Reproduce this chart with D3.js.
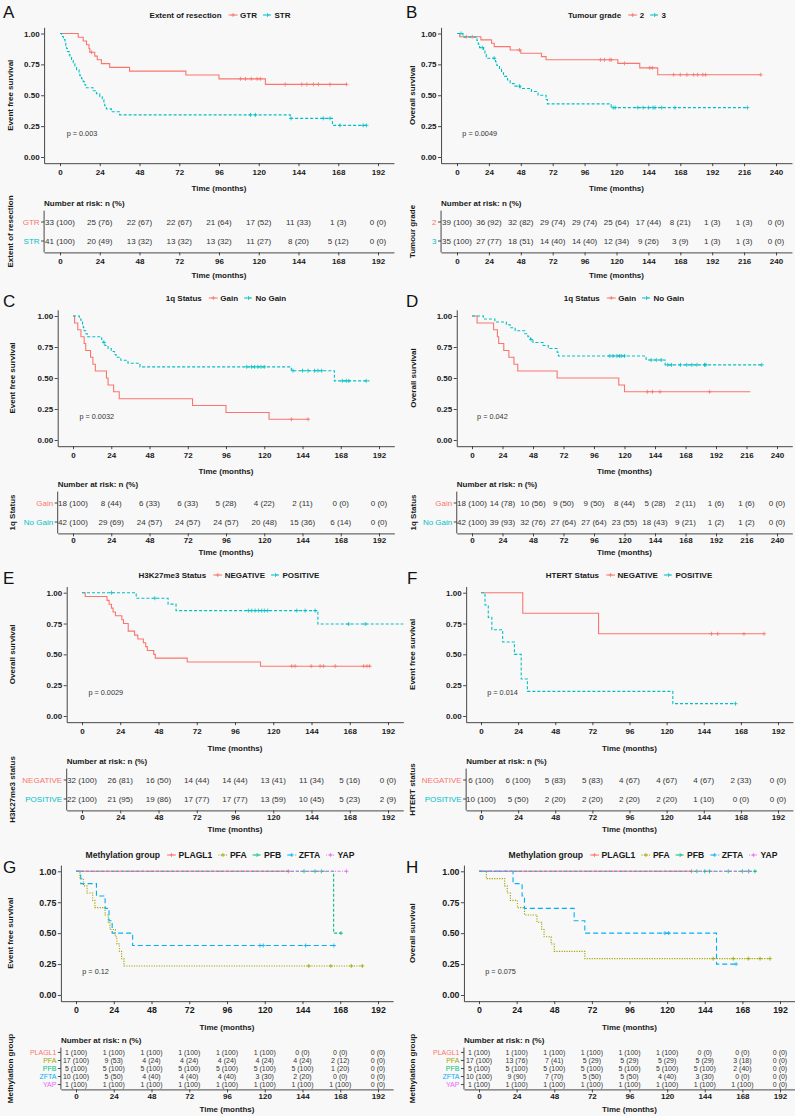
<!DOCTYPE html>
<html><head><meta charset="utf-8">
<script src="https://cdn.jsdelivr.net/npm/d3@7"></script>
<style>
body{margin:0;background:#f8f8f8;}
svg{display:block;font-family:"Liberation Sans",Arial,Helvetica,sans-serif;}
</style></head><body>
<svg id="chart" width="795" height="1116"></svg>
<script>
// ---------------- DATA ----------------
const monthTicks192 = [0,24,48,72,96,120,144,168,192];
const monthTicks240 = [0,24,48,72,96,120,144,168,192,216,240];
const survTicks = [0,0.25,0.5,0.75,1];

// A: Extent of resection, EFS
const A_groups = ['GTR','STR'];
const A_GTR_steps = [[0,1],[11,0.970],[14,0.939],[16,0.909],[17.5,0.879],[18,0.848],[21,0.817],[22.5,0.787],[25,0.756],[30,0.726],[42,0.695],[76,0.664],[96,0.633],[124,0.588]];
const A_GTR_censor = [19,109,112,115.5,119,121,136,146,149,153,156,163,173];
const A_GTR_end = 173;
const A_STR_steps = [[0,1],[1,0.976],[2,0.951],[3,0.927],[3.5,0.902],[4,0.878],[4.5,0.854],[5.5,0.829],[6,0.805],[7,0.780],[8,0.756],[9,0.732],[10,0.707],[11.5,0.683],[12,0.659],[13,0.634],[14,0.610],[15,0.585],[15.5,0.561],[20,0.537],[22,0.512],[24,0.488],[25.5,0.463],[26.5,0.439],[27,0.415],[28,0.390],[31,0.366],[36,0.341],[139,0.313],[164.5,0.256]];
const A_STR_censor = [115,118,139.5,159,163,169,183,185];
const A_STR_end = 186;
const A_risk_GTR = ['33 (100)','25 (76)','22 (67)','22 (67)','21 (64)','17 (52)','11 (33)','1 (3)','0 (0)'];
const A_risk_STR = ['41 (100)','20 (49)','13 (32)','13 (32)','13 (32)','11 (27)','8 (20)','5 (12)','0 (0)'];

// B: Tumour grade, OS
const B_groups = ['2','3'];
const B_G2_steps = [[0,1],[2,0.974],[18,0.948],[26,0.921],[28,0.894],[40,0.867],[48,0.840],[63.5,0.813],[67,0.787],[121,0.758],[137.5,0.722],[151,0.666]];
const B_G2_censor = [7,11.5,47,108,111,115,116,126,145,147,163,168,173,178,181,185,187,228.5];
const B_G2_end = 228.5;
const B_G3_steps = [[0,1],[4.5,0.971],[15,0.943],[16,0.914],[17,0.886],[20,0.857],[21,0.829],[22,0.800],[29,0.771],[30,0.741],[32,0.712],[33.5,0.682],[35,0.653],[38,0.623],[40,0.594],[43,0.574],[47.5,0.555],[56,0.530],[61,0.500],[67,0.465],[68,0.430],[116,0.400]];
const B_G3_censor = [3,19,28,47,117.5,119,136,140,144,147.5,149,154,164,218.5];
const B_G3_end = 218.5;
const B_risk_2 = ['39 (100)','36 (92)','32 (82)','29 (74)','29 (74)','25 (64)','17 (44)','8 (21)','1 (3)','1 (3)','0 (0)'];
const B_risk_3 = ['35 (100)','27 (77)','18 (51)','14 (40)','14 (40)','12 (34)','9 (26)','3 (9)','1 (3)','1 (3)','0 (0)'];

// C: 1q status, EFS
const C_groups = ['Gain','No Gain'];
const C_Gain_steps = [[0,1],[1,0.944],[3,0.889],[5,0.833],[7,0.778],[8,0.722],[11,0.667],[12.5,0.611],[14,0.556],[21,0.500],[22,0.444],[25.5,0.389],[29,0.333],[75,0.278],[96,0.222],[123,0.167]];
const C_Gain_censor = [137,147.5];
const C_Gain_end = 148;
const C_NoGain_steps = [[0,1],[4,0.976],[5,0.952],[6,0.929],[6.5,0.905],[7,0.881],[8,0.857],[9,0.833],[18,0.810],[19,0.786],[20,0.762],[22,0.738],[24,0.714],[26,0.690],[27,0.667],[30,0.643],[34.5,0.619],[42,0.590],[137,0.559],[164,0.477]];
const C_NoGain_censor = [19.5,109,112,114,116,118,120,138,144,147.5,151.6,153.7,156,169,171.5,173,184];
const C_NoGain_end = 186;
const C_risk_Gain = ['18 (100)','8 (44)','6 (33)','6 (33)','5 (28)','4 (22)','2 (11)','0 (0)','0 (0)'];
const C_risk_NoGain = ['42 (100)','29 (69)','24 (57)','24 (57)','24 (57)','20 (48)','15 (36)','6 (14)','0 (0)'];

// D: 1q status, OS
const D_groups = ['Gain','No Gain'];
const D_Gain_steps = [[0,1],[4,0.944],[17,0.889],[20,0.833],[21,0.778],[25,0.722],[29,0.667],[33,0.611],[36,0.556],[67,0.500],[115.5,0.444],[120,0.389]];
const D_Gain_censor = [138,142,148,187];
const D_Gain_end = 219;
const D_NoGain_steps = [[0,1],[9,0.976],[18,0.952],[27,0.929],[30,0.905],[34,0.881],[41.5,0.857],[44,0.833],[46,0.810],[48,0.786],[56,0.762],[60,0.738],[67,0.708],[68,0.678],[137,0.645],[152,0.606]];
const D_NoGain_censor = [46.5,108.5,111,114,116,117.5,120,141,145,149,154,157,164,169,173,177,183,184,228];
const D_NoGain_end = 228;
const D_risk_Gain = ['18 (100)','14 (78)','10 (56)','9 (50)','9 (50)','8 (44)','5 (28)','2 (11)','1 (6)','1 (6)','0 (0)'];
const D_risk_NoGain = ['42 (100)','39 (93)','32 (76)','27 (64)','27 (64)','23 (55)','18 (43)','9 (21)','1 (2)','1 (2)','0 (0)'];

// E: H3K27me3, OS
const E_groups = ['NEGATIVE','POSITIVE'];
const E_Neg_steps = [[0,1],[2,0.969],[15.7,0.938],[17,0.906],[18.5,0.875],[19.5,0.844],[21,0.813],[25,0.781],[26,0.750],[29,0.688],[33,0.656],[35,0.625],[38.5,0.594],[40,0.563],[41,0.531],[45,0.500],[46,0.469],[66,0.438],[112,0.404]];
const E_Neg_censor = [131.6,133.7,143.8,149.4,151.5,158.9,176.7,178.8,180.5];
const E_Neg_end = 181;
const E_Pos_steps = [[0,1],[34,0.955],[54,0.907],[59,0.855],[148,0.746]];
const E_Pos_censor = [18.5,45.7,104.4,106.5,108.6,110.7,112.8,114.4,116.5,134.8,140,146.3,167.3,177.7];
const E_Pos_end = 205;
const E_risk_Neg = ['32 (100)','26 (81)','16 (50)','14 (44)','14 (44)','13 (41)','11 (34)','5 (16)','0 (0)'];
const E_risk_Pos = ['22 (100)','21 (95)','19 (86)','17 (77)','17 (77)','13 (59)','10 (45)','5 (23)','2 (9)'];

// F: HTERT, EFS
const F_groups = ['NEGATIVE','POSITIVE'];
const F_Neg_steps = [[0,1],[27,0.833],[76,0.667]];
const F_Neg_censor = [149,153,170,183];
const F_Neg_end = 183;
const F_Pos_steps = [[0,1],[2.6,0.9],[4.7,0.8],[7,0.7],[14,0.6],[21.6,0.5],[26,0.3],[30,0.2],[124,0.1]];
const F_Pos_censor = [164.5];
const F_Pos_end = 164.5;
const F_risk_Neg = ['6 (100)','6 (100)','5 (83)','5 (83)','4 (67)','4 (67)','4 (67)','2 (33)','0 (0)'];
const F_risk_Pos = ['10 (100)','5 (50)','2 (20)','2 (20)','2 (20)','2 (20)','1 (10)','0 (0)','0 (0)'];

// G: Methylation group, EFS
const G_groups = ['PLAGL1','PFA','PFB','ZFTA','YAP'];
const G_PLAGL1_steps = [[0,1]]; const G_PLAGL1_censor = [135]; const G_PLAGL1_end = 135;
const G_PFA_steps = [[0,1],[2.5,0.941],[4.7,0.882],[7,0.824],[10.6,0.765],[12,0.706],[18.5,0.647],[20.5,0.588],[21.6,0.529],[25,0.471],[26,0.412],[27.6,0.353],[29,0.294],[30.5,0.235]];
const G_PFA_censor = [148,162,175,182]; const G_PFA_end = 182;
const G_PFB_steps = [[0,1],[163.8,0.5]]; const G_PFB_censor = [145,152,156,168.5]; const G_PFB_end = 168.5;
const G_ZFTA_steps = [[0,1],[3,0.9],[13,0.8],[18.5,0.7],[21,0.6],[23,0.5],[36,0.4]];
const G_ZFTA_censor = [117,119,146,164]; const G_ZFTA_end = 164;
const G_YAP_steps = [[0,1]]; const G_YAP_censor = [172]; const G_YAP_end = 172;
const G_risk_PLAGL1 = ['1 (100)','1 (100)','1 (100)','1 (100)','1 (100)','1 (100)','0 (0)','0 (0)','0 (0)'];
const G_risk_PFA = ['17 (100)','9 (53)','4 (24)','4 (24)','4 (24)','4 (24)','4 (24)','2 (12)','0 (0)'];
const G_risk_PFB = ['5 (100)','5 (100)','5 (100)','5 (100)','5 (100)','5 (100)','5 (100)','1 (20)','0 (0)'];
const G_risk_ZFTA = ['10 (100)','5 (50)','4 (40)','4 (40)','4 (40)','3 (30)','2 (20)','0 (0)','0 (0)'];
const G_risk_YAP = ['1 (100)','1 (100)','1 (100)','1 (100)','1 (100)','1 (100)','1 (100)','1 (100)','0 (0)'];

// H: Methylation group, OS
const H_groups = ['PLAGL1','PFA','PFB','ZFTA','YAP'];
const H_PLAGL1_steps = [[0,1]]; const H_PLAGL1_censor = [135.6]; const H_PLAGL1_end = 135.6;
const H_PFA_steps = [[0,1],[4.7,0.941],[16.4,0.882],[18,0.824],[20,0.765],[24.5,0.706],[29,0.647],[37,0.588],[40,0.529],[41.5,0.471],[46,0.412],[48,0.353],[67.5,0.294]];
const H_PFA_censor = [149.4,162.2,171.8,179.3,185.6]; const H_PFA_end = 185.6;
const H_PFB_steps = [[0,1]]; const H_PFB_censor = [139,144,147,159,168,172,176]; const H_PFB_end = 177;
const H_ZFTA_steps = [[0,1],[21.7,0.9],[27.5,0.8],[29,0.7],[60.7,0.6],[67.5,0.5],[151.5,0.25]];
const H_ZFTA_censor = [118.6,121,164]; const H_ZFTA_end = 164;
const H_YAP_steps = [[0,1]]; const H_YAP_censor = [172]; const H_YAP_end = 172;
const H_risk_PLAGL1 = ['1 (100)','1 (100)','1 (100)','1 (100)','1 (100)','1 (100)','0 (0)','0 (0)','0 (0)'];
const H_risk_PFA = ['17 (100)','13 (76)','7 (41)','5 (29)','5 (29)','5 (29)','5 (29)','3 (18)','0 (0)'];
const H_risk_PFB = ['5 (100)','5 (100)','5 (100)','5 (100)','5 (100)','5 (100)','5 (100)','2 (40)','0 (0)'];
const H_risk_ZFTA = ['10 (100)','9 (90)','7 (70)','5 (50)','5 (50)','4 (40)','3 (30)','0 (0)','0 (0)'];
const H_risk_YAP = ['1 (100)','1 (100)','1 (100)','1 (100)','1 (100)','1 (100)','1 (100)','1 (100)','0 (0)'];

// ---------------- STYLE / LAYOUT ----------------
const TWO_COLORS = ['#F8766D','#00BFC4'];
const TWO_DASH = [null,'3,2'];
const FIVE_COLORS = ['#F8766D','#A3A500','#00BF7D','#00B0F6','#E76BF3'];
const FIVE_DASH = [null,'1.2,1.3','3,2','5,3','1,1.5,3,1.5'];
const EFS='Event free survival', OS='Overall survival';

const row1 = {yTop:33.5,yBot:157,legendY:15,letterY:18,xTitleY:188,nrY:203,band:[210.6,252.4],tTickY:261,tTitleY:275,font:8,tickFont:8};
const row2 = {yTop:316,yBot:440,legendY:298,letterY:307,xTitleY:471,nrY:484,band:[491.6,533.4],tTickY:540,tTitleY:552.5,font:8,tickFont:8};
const row3 = {yTop:592.7,yBot:716,legendY:575,letterY:584,xTitleY:748,nrY:761,band:[768.6,810.4],tTickY:817,tTitleY:829.5,font:8,tickFont:8};
const row4 = {yTop:871.3,yBot:995,legendY:855,letterY:873,xTitleY:1027,nrY:1040,band:[1047.6,1089.4],tTickY:1096.5,tTitleY:1109,font:7,tickFont:8.8};

const panels = [
 Object.assign({}, row1, {letter:'A',letterX:3,x0:60,x1:378,xMax:192,ticks:monthTicks192,legendCx:220,ylabX:10,
   legendTitle:'Extent of resection',ylab:EFS,pval:'p = 0.003',groups:A_groups,tableLab:'Extent of resection',
   colors:TWO_COLORS,dashes:TWO_DASH,
   curves:[{steps:A_GTR_steps,censor:A_GTR_censor,end:A_GTR_end},{steps:A_STR_steps,censor:A_STR_censor,end:A_STR_end}],
   risk:[A_risk_GTR,A_risk_STR]}),
 Object.assign({}, row1, {letter:'B',letterX:406,x0:457,x1:776,xMax:240,ticks:monthTicks240,legendCx:617,ylabX:412,
   legendTitle:'Tumour grade',ylab:OS,pval:'p = 0.0049',groups:B_groups,tableLab:'Tumour grade',
   colors:TWO_COLORS,dashes:TWO_DASH,
   curves:[{steps:B_G2_steps,censor:B_G2_censor,end:B_G2_end},{steps:B_G3_steps,censor:B_G3_censor,end:B_G3_end}],
   risk:[B_risk_2,B_risk_3]}),
 Object.assign({}, row2, {letter:'C',letterX:3,x0:73,x1:379,xMax:192,ticks:monthTicks192,legendCx:226,ylabX:12,
   legendTitle:'1q Status',ylab:EFS,pval:'p = 0.0032',groups:C_groups,tableLab:'1q Status',
   colors:TWO_COLORS,dashes:TWO_DASH,
   curves:[{steps:C_Gain_steps,censor:C_Gain_censor,end:C_Gain_end},{steps:C_NoGain_steps,censor:C_NoGain_censor,end:C_NoGain_end}],
   risk:[C_risk_Gain,C_risk_NoGain]}),
 Object.assign({}, row2, {letter:'D',letterX:406,x0:472,x1:777,xMax:240,ticks:monthTicks240,legendCx:624,ylabX:413,
   legendTitle:'1q Status',ylab:OS,pval:'p = 0.042',groups:D_groups,tableLab:'1q Status',
   colors:TWO_COLORS,dashes:TWO_DASH,
   curves:[{steps:D_Gain_steps,censor:D_Gain_censor,end:D_Gain_end},{steps:D_NoGain_steps,censor:D_NoGain_censor,end:D_NoGain_end}],
   risk:[D_risk_Gain,D_risk_NoGain]}),
 Object.assign({}, row3, {letter:'E',letterX:3,x0:82,x1:388,xMax:192,ticks:monthTicks192,legendCx:229,ylabX:12,
   legendTitle:'H3K27me3 Status',ylab:OS,pval:'p = 0.0029',groups:E_groups,tableLab:'H3K27me3 status',
   colors:TWO_COLORS,dashes:TWO_DASH,
   curves:[{steps:E_Neg_steps,censor:E_Neg_censor,end:E_Neg_end},{steps:E_Pos_steps,censor:E_Pos_censor,end:E_Pos_end}],
   risk:[E_risk_Neg,E_risk_Pos]}),
 Object.assign({}, row3, {letter:'F',letterX:407,x0:481,x1:778,xMax:192,ticks:monthTicks192,legendCx:629,ylabX:412,
   legendTitle:'HTERT Status',ylab:EFS,pval:'p = 0.014',groups:F_groups,tableLab:'HTERT status',
   colors:TWO_COLORS,dashes:TWO_DASH,
   curves:[{steps:F_Neg_steps,censor:F_Neg_censor,end:F_Neg_end},{steps:F_Pos_steps,censor:F_Pos_censor,end:F_Pos_end}],
   risk:[F_risk_Neg,F_risk_Pos]}),
 Object.assign({}, row4, {letter:'G',letterX:3,x0:76,x1:378,xMax:192,ticks:monthTicks192,legendCx:220,ylabX:10,
   legendTitle:'Methylation group',ylab:EFS,pval:'p = 0.12',groups:G_groups,tableLab:'Methylation group',
   colors:FIVE_COLORS,dashes:FIVE_DASH,legendFont:8.6,
   curves:[{steps:G_PLAGL1_steps,censor:G_PLAGL1_censor,end:G_PLAGL1_end},{steps:G_PFA_steps,censor:G_PFA_censor,end:G_PFA_end},
           {steps:G_PFB_steps,censor:G_PFB_censor,end:G_PFB_end},{steps:G_ZFTA_steps,censor:G_ZFTA_censor,end:G_ZFTA_end},
           {steps:G_YAP_steps,censor:G_YAP_censor,end:G_YAP_end}],
   risk:[G_risk_PLAGL1,G_risk_PFA,G_risk_PFB,G_risk_ZFTA,G_risk_YAP]}),
 Object.assign({}, row4, {letter:'H',letterX:406,x0:479,x1:780,xMax:192,ticks:monthTicks192,legendCx:643,ylabX:412,
   legendTitle:'Methylation group',ylab:OS,pval:'p = 0.075',groups:H_groups,tableLab:'Methylation group',
   colors:FIVE_COLORS,dashes:FIVE_DASH,legendFont:8.6,
   curves:[{steps:H_PLAGL1_steps,censor:H_PLAGL1_censor,end:H_PLAGL1_end},{steps:H_PFA_steps,censor:H_PFA_censor,end:H_PFA_end},
           {steps:H_PFB_steps,censor:H_PFB_censor,end:H_PFB_end},{steps:H_ZFTA_steps,censor:H_ZFTA_censor,end:H_ZFTA_end},
           {steps:H_YAP_steps,censor:H_YAP_censor,end:H_YAP_end}],
   risk:[H_risk_PLAGL1,H_risk_PFA,H_risk_PFB,H_risk_ZFTA,H_risk_YAP]})
];

// ---------------- DRAW ----------------
const svg = d3.select('#chart');
svg.append('rect').attr('width',795).attr('height',1116).attr('fill','#f8f8f8');
const defs = svg.append('defs');
const AX = '#333', TXT = '#1a1a1a';

function stepVal(steps,t){ let s=steps[0][1]; for(const d of steps){ if(d[0]<=t) s=d[1]; else break; } return s; }
function styleAxis(sel,fs){
  sel.select('.domain').attr('stroke',AX).attr('stroke-width',0.9);
  sel.selectAll('.tick line').attr('stroke',AX).attr('stroke-width',0.9);
  sel.selectAll('.tick text').attr('fill',TXT).style('font-size',fs+'px').style('font-weight','bold')
     .style('font-family','"Liberation Sans",Arial,sans-serif');
}
function plus(g,cx,cy,col,r){ g.append('path').attr('d',`M${cx-r},${cy}h${2*r}M${cx},${cy-r}v${2*r}`).attr('stroke',col).attr('stroke-width',0.8).attr('fill','none'); }

panels.forEach(p=>{
  const g = svg.append('g');
  const base = d3.scaleLinear().domain([0,p.xMax]).range([p.x0,p.x1]);
  const lo = -0.05*p.xMax, hi = 1.05*p.xMax;
  const x = d3.scaleLinear().domain([lo,hi]).range([base(lo),base(hi)]);
  const yb = d3.scaleLinear().domain([0,1]).range([p.yBot,p.yTop]);
  const y = d3.scaleLinear().domain([-0.05,1.05]).range([yb(-0.05),yb(1.05)]);
  const clipId = 'clip'+p.letter;
  defs.append('clipPath').attr('id',clipId).append('rect')
    .attr('x',x(lo)).attr('y',y(1.05)-3).attr('width',x(hi)-x(lo)).attr('height',y(-0.05)-y(1.05)+3);

  g.append('text').attr('x',p.letterX).attr('y',p.letterY).text(p.letter)
    .style('font-size','17px').attr('fill','#111');

  const line = d3.line().x(d=>x(d[0])).y(d=>y(d[1])).curve(d3.curveStepAfter);
  const cg = g.append('g').attr('clip-path',`url(#${clipId})`);
  p.curves.forEach((c,i)=>{
    const pts = c.steps.concat([[c.end, c.steps[c.steps.length-1][1]]]);
    const path = cg.append('path').attr('d',line(pts)).attr('fill','none').attr('stroke',p.colors[i]).attr('stroke-width',1.1);
    if(p.dashes[i]) path.attr('stroke-dasharray',p.dashes[i]);
    c.censor.forEach(t=> plus(cg, x(t), y(stepVal(c.steps,t)), p.colors[i], 2));
  });

  const ax = g.append('g').attr('transform',`translate(0,${y(-0.05)})`)
    .call(d3.axisBottom(x).tickValues(p.ticks).tickSize(3).tickSizeOuter(0).tickPadding(3));
  styleAxis(ax,p.tickFont);
  const ay = g.append('g').attr('transform',`translate(${x(lo)},0)`)
    .call(d3.axisLeft(y).tickValues(survTicks).tickFormat(d3.format('.2f')).tickSize(3).tickSizeOuter(0).tickPadding(1.5));
  styleAxis(ay,p.tickFont);

  g.append('text').attr('transform',`translate(${p.ylabX},${(y(-0.05)+y(1.05))/2}) rotate(-90)`)
    .attr('text-anchor','middle').attr('dy','0.35em').text(p.ylab)
    .style('font-size','8px').style('font-weight','bold').attr('fill',TXT);
  const cxm = (x(lo)+x(hi))/2;
  g.append('text').attr('x',cxm).attr('y',p.xTitleY).attr('dy','0.35em').attr('text-anchor','middle')
    .text('Time (months)').style('font-size','8px').style('font-weight','bold').attr('fill',TXT);
  g.append('text').attr('x',x(4)).attr('y',y(0.19)).attr('dy','0.35em').text(p.pval)
    .style('font-size','7.3px').attr('fill','#333');

  const lf = p.legendFont || 8;
  const lg = g.append('g');
  const tt = lg.append('text').attr('x',0).attr('y',p.legendY).attr('dy','0.35em').text(p.legendTitle)
    .style('font-size',lf+'px').style('font-weight','bold').attr('fill',TXT);
  let cx = tt.node().getComputedTextLength()+7;
  p.groups.forEach((name,i)=>{
    const ln = lg.append('line').attr('x1',cx).attr('x2',cx+9).attr('y1',p.legendY).attr('y2',p.legendY)
      .attr('stroke',p.colors[i]).attr('stroke-width',1);
    if(p.dashes[i]) ln.attr('stroke-dasharray',p.dashes[i]);
    plus(lg,cx+4.5,p.legendY,p.colors[i],2);
    cx += 11.5;
    const t = lg.append('text').attr('x',cx).attr('y',p.legendY).attr('dy','0.35em').text(name)
      .style('font-size',lf+'px').style('font-weight','bold').attr('fill',TXT);
    cx += t.node().getComputedTextLength()+6;
  });
  const total = cx-6;
  lg.attr('transform',`translate(${p.legendCx-total/2},0)`);

  // risk table
  const top = p.band[0], bottom = p.band[1];
  const band = d3.scalePoint().domain(p.groups).range([top,bottom]).padding(0.6);
  g.append('text').attr('x',x(lo)).attr('y',p.nrY).attr('dy','0.35em').text('Number at risk: n (%)')
    .style('font-size','8px').style('font-weight','bold').attr('fill',TXT);
  g.append('line').attr('x1',x(lo)).attr('x2',x(lo)).attr('y1',top).attr('y2',bottom).attr('stroke',AX).attr('stroke-width',0.9);
  p.groups.forEach((name,i)=>{
    const yy = band(name);
    g.append('line').attr('x1',x(lo)-3).attr('x2',x(lo)).attr('y1',yy).attr('y2',yy).attr('stroke',AX).attr('stroke-width',0.9);
    g.append('text').attr('x',x(lo)-4.5).attr('y',yy).attr('dy','0.35em').attr('text-anchor','end').text(name)
      .style('font-size',p.font+'px').attr('fill',p.colors[i]);
    p.risk[i].forEach((s,j)=>{
      g.append('text').attr('x',x(p.ticks[j])).attr('y',yy).attr('dy','0.35em').attr('text-anchor','middle').text(s)
        .style('font-size',p.font+'px').attr('fill','#333');
    });
  });
  const tx = g.append('g').attr('transform',`translate(0,${bottom})`)
    .call(d3.axisBottom(x).tickValues(p.ticks).tickSize(3).tickSizeOuter(0).tickPadding(3));
  styleAxis(tx,8);
  tx.selectAll('.tick text').attr('y',p.tTickY-bottom).attr('dy','0.35em');
  g.append('text').attr('x',cxm).attr('y',p.tTitleY).attr('dy','0.35em').attr('text-anchor','middle')
    .text('Time (months)').style('font-size','8px').style('font-weight','bold').attr('fill',TXT);
  g.append('text').attr('transform',`translate(${p.ylabX},${(top+bottom)/2}) rotate(-90)`)
    .attr('text-anchor','middle').attr('dy','0.35em').text(p.tableLab)
    .style('font-size','8px').style('font-weight','bold').attr('fill',TXT);
});
</script>
</body></html>
